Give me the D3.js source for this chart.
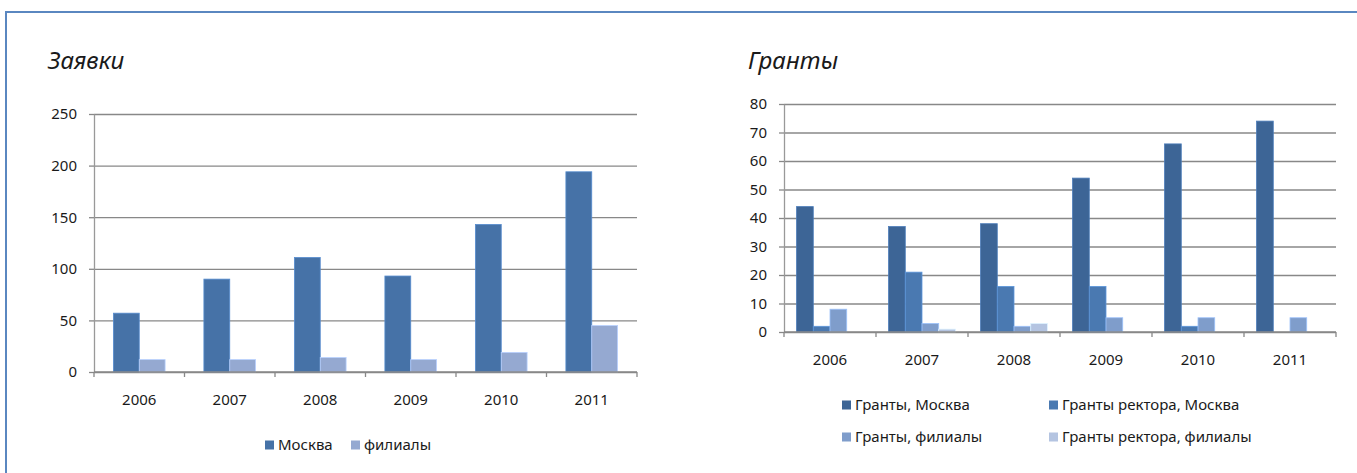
<!DOCTYPE html>
<html>
<head>
<meta charset="utf-8">
<script src="https://cdn.jsdelivr.net/npm/d3@7"></script>
<style>
  body { margin: 0; background: #fff; }
  svg text { font-family: "Noto Sans", "Open Sans", sans-serif; fill: #1a1a1a; }
</style>
</head>
<body>
<div id="chart"></div>
<script>
// categories
var years = ["2006", "2007", "2008", "2009", "2010", "2011"];

// Заявки
var zayavkiMoskva = [57, 90, 111, 93, 143, 194];
var zayavkiFilialy = [12, 12, 14, 12, 19, 45];
var zayavkiTicks = [0, 50, 100, 150, 200, 250];

// Гранты
var grantyMoskva = [44, 37, 38, 54, 66, 74];
var grantyRektoraMoskva = [2, 21, 16, 16, 2, 0];
var grantyFilialy = [8, 3, 2, 5, 5, 5];
var grantyRektoraFilialy = [0, 1, 3, 0, 0, 0];
var grantyTicks = [0, 10, 20, 30, 40, 50, 60, 70, 80];

var width = 1357;
var height = 473;
var fontSize = 15;

var svg = d3.select("#chart").append("svg")
    .attr("width", width)
    .attr("height", height);

// blue frame (top and left edge only)
svg.append("path")
    .attr("d", "M6,473 L6,12 L1357,12")
    .attr("fill", "none")
    .attr("stroke", "#5a87c0")
    .attr("stroke-width", 2);

drawChart({
    title: "Заявки",
    titleX: 48,
    left: 94, right: 637, top: 114, bottom: 372,
    max: 250,
    ticks: zayavkiTicks,
    series: [
        {name: "Москва", values: zayavkiMoskva, color: "#4672a7"},
        {name: "филиалы", values: zayavkiFilialy, color: "#95a9d1"}
    ],
    legend: [
        {x: 265, y: 445},
        {x: 351, y: 445}
    ]
});

drawChart({
    title: "Гранты",
    titleX: 748,
    left: 784, right: 1336, top: 104, bottom: 332,
    max: 80,
    ticks: grantyTicks,
    series: [
        {name: "Гранты, Москва", values: grantyMoskva, color: "#3d6596"},
        {name: "Гранты ректора, Москва", values: grantyRektoraMoskva, color: "#4a79b1"},
        {name: "Гранты, филиалы", values: grantyFilialy, color: "#7f9dcb"},
        {name: "Гранты ректора, филиалы", values: grantyRektoraFilialy, color: "#b4c4e1"}
    ],
    legend: [
        {x: 842, y: 405},
        {x: 1049, y: 405},
        {x: 842, y: 437},
        {x: 1049, y: 437}
    ]
});

function drawChart(c) {
    var g = svg.append("g");

    // title
    g.append("text")
        .attr("x", c.titleX)
        .attr("y", 69)
        .attr("font-size", 24)
        .attr("font-style", "italic")
        .text(c.title);

    var x = d3.scaleBand()
        .domain(years)
        .range([c.left, c.right])
        .padding(0);

    // gap width 150% like excel
    var xs = d3.scaleBand()
        .domain(d3.range(c.series.length))
        .range([0, x.bandwidth()])
        .paddingInner(0)
        .paddingOuter(0.75);

    var y = d3.scaleLinear()
        .domain([0, c.max])
        .range([c.bottom, c.top]);

    // gridlines
    g.append("g")
        .attr("transform", "translate(" + c.left + ",0)")
        .call(d3.axisLeft(y).tickValues(c.ticks).tickSize(-(c.right - c.left)).tickFormat(""))
        .call(function (s) {
            s.select(".domain").remove();
            s.selectAll("line").attr("stroke", "#888").attr("stroke-width", 1.3);
        });

    // y axis with labels
    g.append("g")
        .attr("transform", "translate(" + c.left + ",0)")
        .call(d3.axisLeft(y).tickValues(c.ticks).tickSize(5).tickSizeOuter(0).tickPadding(12))
        .call(function (s) {
            s.select(".domain").attr("stroke", "#999").attr("stroke-width", 1.3);
            s.selectAll("line").attr("stroke", "#888").attr("stroke-width", 1.3);
            s.selectAll("text")
                .attr("font-size", fontSize)
                .attr("font-family", "Noto Sans")
                .attr("fill", "#1a1a1a");
        });

    // bars
    c.series.forEach(function (ser, i) {
        g.append("g").selectAll("rect")
            .data(ser.values)
            .enter()
            .append("rect")
            .attr("x", function (d, j) { return x(years[j]) + xs(i); })
            .attr("y", function (d) { return y(d); })
            .attr("width", xs.bandwidth())
            .attr("height", function (d) { return y(0) - y(d); })
            .attr("fill", ser.color)
            .attr("stroke", d3.color(ser.color).brighter(0.6))
            .attr("stroke-width", 0.8);
    });

    // x axis
    g.append("line")
        .attr("x1", c.left).attr("x2", c.right)
        .attr("y1", y(0)).attr("y2", y(0))
        .attr("stroke", "#888").attr("stroke-width", 1.3);

    // category boundary ticks
    var bounds = years.map(function (d) { return x(d); }).concat([c.right]);
    g.append("g").selectAll("line")
        .data(bounds)
        .enter()
        .append("line")
        .attr("x1", function (d) { return d; })
        .attr("x2", function (d) { return d; })
        .attr("y1", y(0))
        .attr("y2", y(0) + 5)
        .attr("stroke", "#888")
        .attr("stroke-width", 1.3);

    g.append("g").selectAll("text")
        .data(years)
        .enter()
        .append("text")
        .attr("x", function (d) { return x(d) + x.bandwidth() / 2; })
        .attr("y", y(0) + 28)
        .attr("dy", "0.35em")
        .attr("text-anchor", "middle")
        .attr("font-size", fontSize)
        .text(function (d) { return d; });

    // legend
    var leg = g.append("g").selectAll("g")
        .data(c.series)
        .enter()
        .append("g")
        .attr("transform", function (d, i) {
            return "translate(" + c.legend[i].x + "," + c.legend[i].y + ")";
        });

    leg.append("rect")
        .attr("x", 0).attr("y", -4.5)
        .attr("width", 9).attr("height", 9)
        .attr("fill", function (d) { return d.color; });

    leg.append("text")
        .attr("x", 13)
        .attr("dy", "0.35em")
        .attr("font-size", fontSize)
        .text(function (d) { return d.name; });
}
</script>
</body>
</html>
